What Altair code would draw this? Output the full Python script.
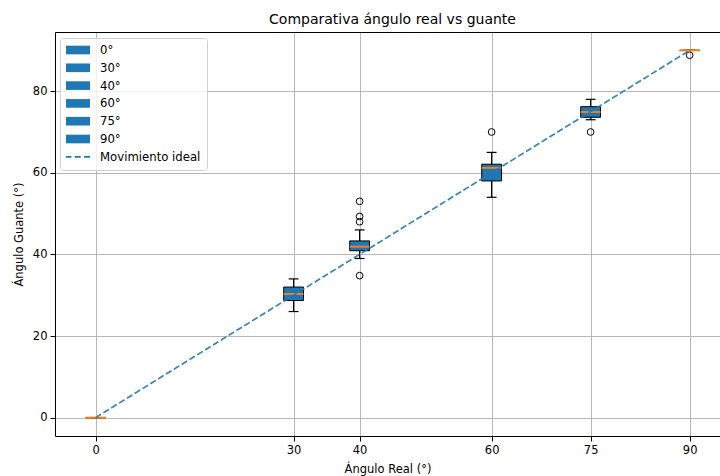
import altair as alt
import pandas as pd

# ---- data ----
angles = [0, 30, 40, 60, 75, 90]
labels = ["0°", "30°", "40°", "60°", "75°", "90°"]
q1 = [0, 28.7, 40.9, 58.0, 73.6, 90]
medians = [0, 30.3, 41.9, 61.2, 74.9, 90]
q3 = [0, 32.0, 43.3, 62.1, 76.2, 90]
whisker_low = [0, 26, 39, 54, 73, 90]
whisker_high = [0, 34, 46, 65, 78, 90]
outlier_angles = [40, 40, 40, 40, 60, 75, 90]
outlier_values = [53, 49.3, 48, 34.8, 70, 70, 88.8]
ideal_x = [0, 90]
ideal_y = [0, 90]
x_ticks = [0, 30, 40, 60, 75, 90]
y_ticks = [0, 20, 40, 60, 80]
legend_labels = labels + ["Movimiento ideal"]

BLUE = "#1f77b4"
ORANGE = "#ff7f0e"
FONT = "DejaVu Sans"
BOX_HALF = 1.5
CAP_HALF = 0.75

boxes = pd.DataFrame({
    "angle": angles, "label": labels, "q1": q1, "median": medians, "q3": q3,
    "lo": whisker_low, "hi": whisker_high,
})
outl = pd.DataFrame({"angle": outlier_angles, "value": outlier_values})
ideal = pd.DataFrame({"x": ideal_x, "y": ideal_y})
leg = pd.DataFrame({"leg": legend_labels})

xscale = alt.Scale(domain=[-6.15, 94.6], nice=False, zero=False)
yscale = alt.Scale(domain=[-4.5, 94.5], nice=False, zero=False)
xaxis = alt.Axis(values=x_ticks, title="Ángulo Real (°)", format="d", titlePadding=8)
yaxis = alt.Axis(values=y_ticks, title="Ángulo Guante (°)", format="d", titlePadding=8)


def X(field, **kw):
    return alt.X(field, type="quantitative", scale=xscale, axis=xaxis, **kw)


def Y(field, **kw):
    return alt.Y(field, type="quantitative", scale=yscale, axis=yaxis, **kw)


base = alt.Chart(boxes).transform_calculate(
    x0=f"datum.angle - {BOX_HALF}", x1=f"datum.angle + {BOX_HALF}",
    c0=f"datum.angle - {CAP_HALF}", c1=f"datum.angle + {CAP_HALF}",
)

whiskers = base.mark_rule(color="black", strokeWidth=1.2).encode(
    x=X("angle"), y=Y("lo"), y2="hi"
)
cap_lo = base.mark_rule(color="black", strokeWidth=1.2).encode(
    x=X("c0"), x2="c1", y=Y("lo")
)
cap_hi = base.mark_rule(color="black", strokeWidth=1.2).encode(
    x=X("c0"), x2="c1", y=Y("hi")
)
box = base.mark_rect(fill=BLUE, stroke="black", strokeWidth=1).encode(
    x=X("x0"), x2="x1", y=Y("q1"), y2="q3"
)
median = base.mark_rule(color=ORANGE, strokeWidth=1.9).encode(
    x=X("x0"), x2="x1", y=Y("median")
)
points = alt.Chart(outl).mark_point(
    shape="circle", size=45, filled=False, color="black", strokeWidth=1, opacity=1
).encode(x=X("angle"), y=Y("value"))

line = alt.Chart(ideal).mark_line(
    color=BLUE, strokeWidth=1.7, strokeDash=[6.4, 2.8], opacity=0.9
).encode(x=X("x"), y=Y("y"))

rect_path = "M-2,-0.72H2V0.72H-2Z"
dash_path = ("M-2,-0.14H-1.1V0.14H-2Z"
             "M-0.55,-0.14H0.45V0.14H-0.55Z"
             "M1.0,-0.14H2V0.14H1.0Z")
legend_layer = alt.Chart(leg).mark_point(filled=True, color=BLUE, opacity=0).encode(
    shape=alt.Shape(
        "leg:N",
        scale=alt.Scale(domain=legend_labels, range=[rect_path] * 6 + [dash_path]),
        legend=alt.Legend(
            title=None, orient="none", legendX=5, legendY=6,
            labelFont=FONT, labelFontSize=11.7, labelColor="black",
            symbolSize=144, symbolFillColor=BLUE, symbolStrokeColor=BLUE,
            symbolStrokeWidth=0, symbolOpacity=1,
            symbolOffset=6, labelOffset=16, rowPadding=4.8, padding=6,
            fillColor="rgba(255,255,255,0.8)", strokeColor="#d0d0d0",
            cornerRadius=3, labelLimit=300,
        ),
    )
)

main = alt.layer(whiskers, cap_lo, cap_hi, box, median, points, line, legend_layer)

top_spine = alt.Chart(ideal).mark_point(opacity=0).encode(
    x=alt.X("x:Q", scale=xscale, axis=alt.Axis(
        orient="top", labels=False, ticks=False, grid=False, title=None,
        domainColor="black", domainWidth=1)),
)

chart = alt.layer(main, top_spine).resolve_axis(x="independent").properties(
    width=665, height=404,
    padding={"left": 55, "top": 32, "right": 0, "bottom": 40},
    autosize=alt.AutoSizeParams(type="none"),
    title=alt.TitleParams(
        "Comparativa ángulo real vs guante", font=FONT, fontSize=14,
        fontWeight="normal", anchor="middle", dx=5, offset=5, color="black",
    ),
).configure_view(stroke=None).configure_axis(
    labelFont=FONT, labelFontSize=11.5, labelColor="black",
    titleFont=FONT, titleFontSize=11.5, titleFontWeight="normal", titleColor="black",
    grid=True, gridColor="#b0b0b0", gridWidth=0.9,
    domainColor="black", domainWidth=1, tickColor="black", tickSize=5, tickWidth=1,
    labelPadding=3,
)

chart.save("out.html", embed_options={"renderer": "svg", "actions": False})
